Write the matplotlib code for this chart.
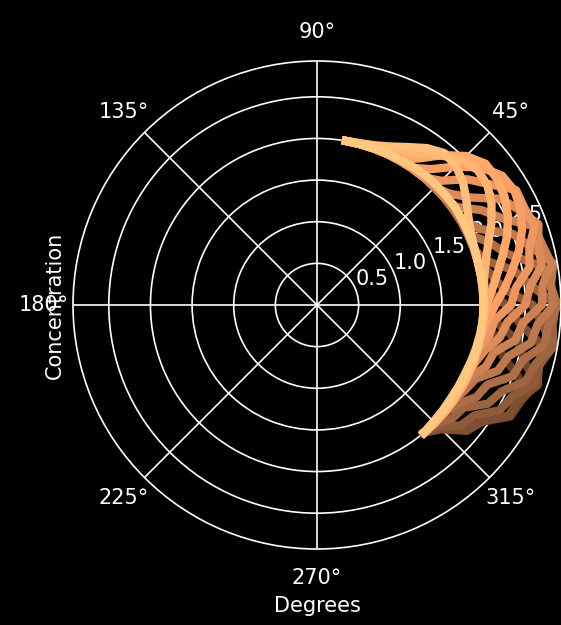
import numpy as np
import matplotlib
matplotlib.use("Agg")
import matplotlib.pyplot as plt

# Angle grid (degrees) shared by every profile
degrees = [-50, -45, -40, -35, -30, -25, -20, -15, -10, -5, 0, 5, 10,
           15, 20, 25, 30, 35, 40, 45, 50, 55, 60, 65, 70, 75, 80]

# Concentration profiles, brightest (earliest) to darkest (latest)
conc_00 = [2.00, 1.98, 1.97, 1.96, 1.96, 1.96, 1.97, 1.98, 1.99, 2.00, 2.00, 2.00, 2.00, 2.00,
           2.01, 2.01, 2.02, 2.03, 2.03, 2.03, 2.03, 2.02, 2.01, 2.01, 2.00, 2.00, 2.00]
conc_01 = [2.00, 1.99, 1.98, 1.98, 1.98, 1.98, 1.99, 1.99, 2.00, 2.00, 2.00, 2.00, 2.00, 2.00,
           2.01, 2.04, 2.10, 2.19, 2.29, 2.36, 2.38, 2.30, 2.19, 2.10, 2.04, 2.01, 2.00]
conc_02 = [2.00, 2.00, 1.99, 1.99, 1.99, 1.99, 2.00, 2.00, 2.00, 2.00, 2.00, 2.01, 2.04, 2.10,
           2.19, 2.31, 2.42, 2.50, 2.52, 2.46, 2.34, 2.22, 2.13, 2.07, 2.03, 2.01, 2.00]
conc_03 = [2.00, 2.00, 2.00, 2.00, 2.00, 2.00, 2.00, 2.00, 2.00, 2.00, 2.04, 2.11, 2.20, 2.31,
           2.43, 2.53, 2.60, 2.64, 2.64, 2.53, 2.35, 2.15, 2.02, 2.00, 2.00, 2.00, 2.00]
conc_04 = [2.00, 2.00, 2.00, 2.00, 2.00, 2.00, 2.00, 2.00, 2.01, 2.06, 2.14, 2.26, 2.38, 2.51,
           2.62, 2.70, 2.74, 2.71, 2.57, 2.35, 2.13, 2.01, 2.00, 2.00, 2.00, 2.00, 2.00]
conc_05 = [2.00, 2.00, 2.00, 2.00, 2.00, 2.00, 2.00, 2.01, 2.10, 2.14, 2.33, 2.40, 2.59, 2.64,
           2.78, 2.75, 2.76, 2.53, 2.35, 2.11, 2.00, 2.00, 2.00, 2.00, 2.00, 2.00, 2.00]
conc_06 = [2.00, 2.00, 2.00, 2.00, 2.00, 2.00, 2.02, 2.09, 2.23, 2.30, 2.50, 2.57, 2.74, 2.75,
           2.83, 2.69, 2.55, 2.25, 2.08, 2.00, 2.00, 2.00, 2.00, 2.00, 2.00, 2.00, 2.00]
conc_07 = [2.00, 2.00, 2.00, 2.00, 2.00, 2.04, 2.16, 2.20, 2.42, 2.48, 2.70, 2.72, 2.86, 2.80,
           2.77, 2.46, 2.28, 2.05, 2.00, 2.00, 2.00, 2.00, 2.00, 2.00, 2.00, 2.00, 2.00]
conc_08 = [2.00, 2.00, 2.00, 2.00, 2.05, 2.10, 2.31, 2.38, 2.61, 2.66, 2.84, 2.82, 2.88, 2.67,
           2.50, 2.16, 2.03, 2.00, 2.00, 2.00, 2.00, 2.00, 2.00, 2.00, 2.00, 2.00, 2.00]
conc_09 = [2.00, 2.00, 2.01, 2.07, 2.21, 2.26, 2.50, 2.56, 2.77, 2.79, 2.89, 2.81, 2.72, 2.37,
           2.20, 2.01, 2.00, 2.00, 2.00, 2.00, 2.00, 2.00, 2.00, 2.00, 2.00, 2.00, 2.00]
conc_10 = [2.00, 2.02, 2.12, 2.15, 2.37, 2.45, 2.67, 2.72, 2.88, 2.84, 2.87, 2.59, 2.40, 2.08,
           2.00, 2.00, 2.00, 2.00, 2.00, 2.00, 2.00, 2.00, 2.00, 2.00, 2.00, 2.00, 2.00]
conc_11 = [2.00, 2.06, 2.25, 2.31, 2.53, 2.59, 2.78, 2.77, 2.88, 2.72, 2.59, 2.25, 2.12, 2.00,
           2.00, 2.00, 2.00, 2.00, 2.00, 2.00, 2.00, 2.00, 2.00, 2.00, 2.00, 2.00, 2.00]
conc_12 = [2.00, 2.11, 2.35, 2.43, 2.66, 2.68, 2.82, 2.76, 2.73, 2.44, 2.27, 2.05, 2.00, 2.00,
           2.00, 2.00, 2.00, 2.00, 2.00, 2.00, 2.00, 2.00, 2.00, 2.00, 2.00, 2.00, 2.00]
conc_13 = [2.00, 2.09, 2.34, 2.44, 2.68, 2.71, 2.79, 2.58, 2.44, 2.14, 2.03, 2.00, 2.00, 2.00,
           2.00, 2.00, 2.00, 2.00, 2.00, 2.00, 2.00, 2.00, 2.00, 2.00, 2.00, 2.00, 2.00]
conc_14 = [2.00, 2.06, 2.30, 2.40, 2.66, 2.66, 2.59, 2.30, 2.17, 2.01, 2.00, 2.00, 2.00, 2.00,
           2.00, 2.00, 2.00, 2.00, 2.00, 2.00, 2.00, 2.00, 2.00, 2.00, 2.00, 2.00, 2.00]

profiles = [conc_00, conc_01, conc_02, conc_03, conc_04, conc_05, conc_06, conc_07,
            conc_08, conc_09, conc_10, conc_11, conc_12, conc_13, conc_14]
color_levels = [1.00, 0.95, 0.90, 0.85, 0.80, 0.75, 0.70, 0.65,
                0.60, 0.55, 0.50, 0.45, 0.40, 0.35, 0.30]

fig = plt.figure(figsize=(561 / 150, 625 / 150), dpi=150, facecolor="black")
ax = fig.add_axes([73 / 561, 76 / 625, 488 / 561, 488 / 625], projection="polar")
ax.set_facecolor("black")

theta = np.deg2rad(degrees)
cmap = plt.get_cmap("copper")
# darker (later) profiles first so the brighter ones sit on top
for r, lvl in reversed(list(zip(profiles, color_levels))):
    ax.plot(theta, r, color=cmap(lvl), linewidth=4)

ax.set_ylim(0, 2.93)
ax.set_yticks([0.5, 1.0, 1.5, 2.0, 2.5])
ax.grid(True, color="white", linewidth=0.8)
ax.spines["polar"].set_color("white")
ax.tick_params(colors="white", labelcolor="white")

ax.set_xlabel("Degrees", color="white")
ax.set_ylabel("Concentration", color="white")

fig.savefig("out.png", dpi=150, facecolor="black")
